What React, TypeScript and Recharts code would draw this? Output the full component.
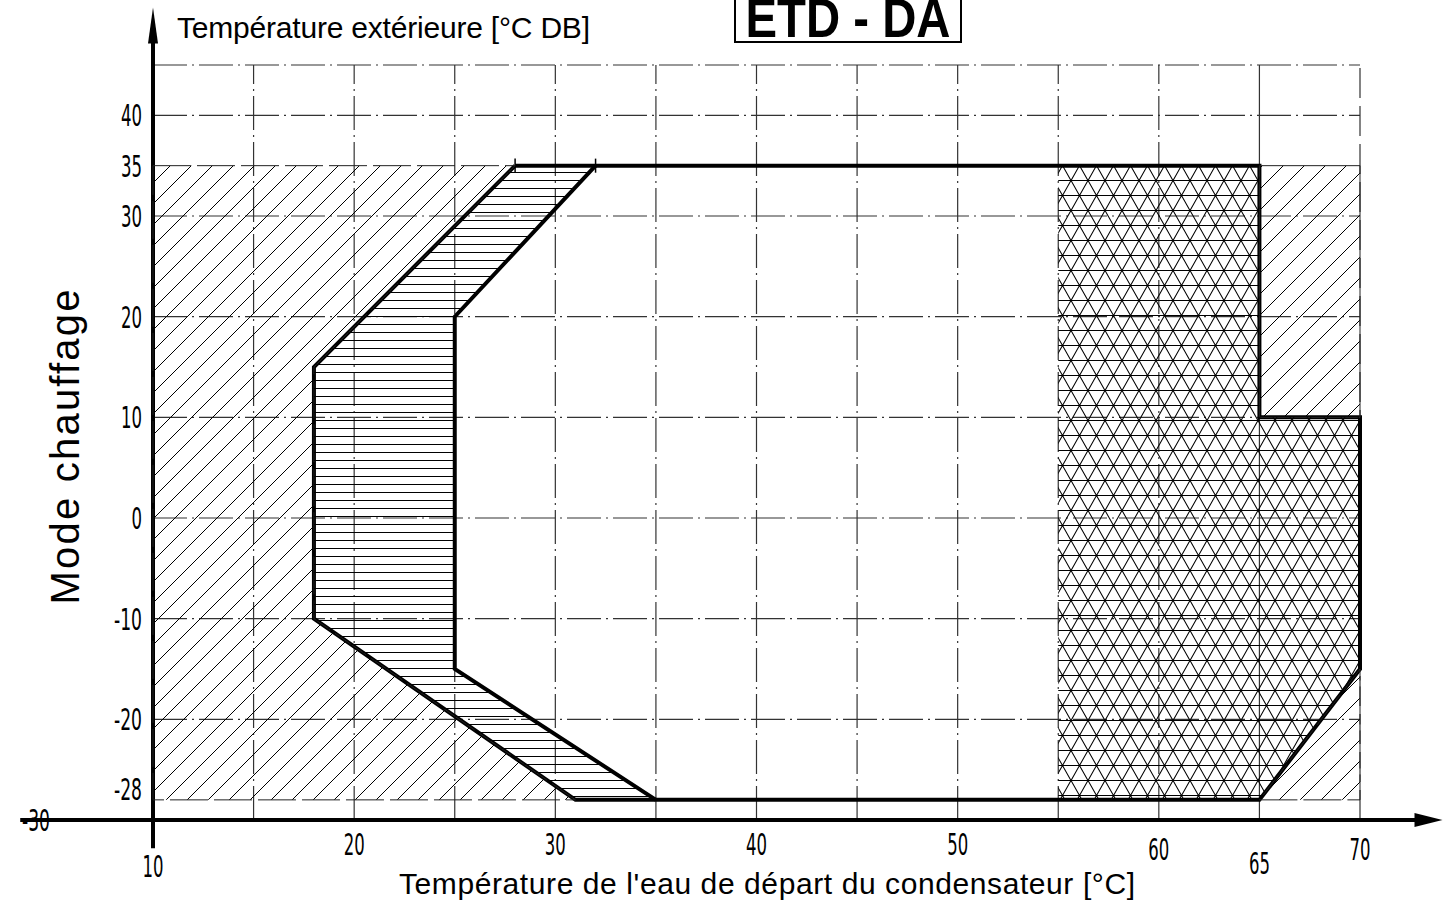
import React from "react";
import { ComposedChart, XAxis, YAxis, Line, Scatter, ReferenceLine, Customized } from "recharts";

const xTicks = [10, 20, 30, 40, 50, 60, 65, 70];
const yTicks = [40, 35, 30, 20, 10, 0, -10, -20, -28, -30];
const gridX = [15, 20, 25, 30, 35, 40, 45, 50, 55, 60, 65, 70];
const gridY = [45, 40, 30, 20, 10, 0, -10, -20];
const topMarks = [28, 32];

// thick outline of the operating envelope
const envelope = [
  { x: 28, y: 35 }, { x: 65, y: 35 }, { x: 65, y: 10 }, { x: 70, y: 10 }, { x: 70, y: -15 },
  { x: 65, y: -28 }, { x: 31, y: -28 }, { x: 18, y: -10 }, { x: 18, y: 15 }, { x: 28, y: 35 },
];
const innerLimit = [{ x: 32, y: 35 }, { x: 25, y: 20 }, { x: 25, y: -15 }, { x: 35, y: -28 }];

// hatched zones
const leftOut = [
  { x: 10, y: 35 }, { x: 28, y: 35 }, { x: 18, y: 15 }, { x: 18, y: -10 }, { x: 31, y: -28 }, { x: 10, y: -28 },
];
const band = [
  { x: 28, y: 35 }, { x: 18, y: 15 }, { x: 18, y: -10 }, { x: 31, y: -28 },
  { x: 35, y: -28 }, { x: 25, y: -15 }, { x: 25, y: 20 }, { x: 32, y: 35 },
];
const highTemp = [
  { x: 55, y: 35 }, { x: 65, y: 35 }, { x: 65, y: 10 }, { x: 70, y: 10 },
  { x: 70, y: -15 }, { x: 65, y: -28 }, { x: 55, y: -28 },
];
const rightOutTop = [{ x: 65, y: 35 }, { x: 70, y: 35 }, { x: 70, y: 10 }, { x: 65, y: 10 }];
const rightOutLow = [{ x: 65, y: -28 }, { x: 70, y: -28 }, { x: 70, y: -15 }];

const PLOT_BOTTOM = 820;
const TICK_FONT = "'Liberation Sans Narrow', 'DejaVu Sans Condensed', sans-serif";
const TEXT_FONT = "'Liberation Sans', Arial, sans-serif";
const GRID_DASH = "34 5 2 5";

const labelWidth = (s: string) => s.replace("-", "").length * 10.5 + (s.includes("-") ? 7 : 0);

// x labels are staggered in the original drawing
const xDrop: Record<number, number> = { 10: 57, 60: 40, 65: 54, 70: 40 };

function XTick({ x, payload }: any) {
  const s = String(payload.value);
  return (
    <text x={x} y={PLOT_BOTTOM + (xDrop[payload.value] ?? 35)} textAnchor="middle" fontFamily={TICK_FONT}
      fontSize={31} textLength={labelWidth(s)} lengthAdjust="spacingAndGlyphs" fill="#000">
      {s}
    </text>
  );
}

function YTick({ y, payload }: any) {
  const v = payload.value;
  const s = String(v);
  const right = v === -30 ? 50 : 142;
  const dy = v === -28 ? 0 : 11;
  return (
    <text x={right} y={y + dy} textAnchor="end" fontFamily={TICK_FONT} fontSize={31}
      textLength={labelWidth(s)} lengthAdjust="spacingAndGlyphs" fill="#000">
      {s}
    </text>
  );
}

const zone = (fill: string, stroke = "none", dash?: string) => (p: any) => (
  <polygon
    points={p.points.map((q: any) => `${q.x},${q.y}`).join(" ")}
    fill={fill}
    stroke={stroke}
    strokeWidth={1}
    strokeDasharray={dash}
  />
);

const xArrow = (p: any) => (
  <g>
    <line x1={p.x1} y1={p.y1} x2={p.x2 - 20} y2={p.y2} stroke="#000" strokeWidth={4} />
    <polygon points={`${p.x2},${p.y2} ${p.x2 - 28},${p.y2 - 7} ${p.x2 - 28},${p.y2 + 7}`} fill="#000" />
  </g>
);

const yArrow = (p: any) => (
  <g>
    <line x1={p.x1} y1={p.y1} x2={p.x2} y2={p.y2 + 20} stroke="#000" strokeWidth={4} />
    <polygon points={`${p.x2},${p.y2} ${p.x2 - 5},${p.y2 + 36} ${p.x2 + 5},${p.y2 + 36}`} fill="#000" />
  </g>
);

function Annotations() {
  return (
    <g fontFamily={TEXT_FONT} fill="#000">
      <text x={177} y={38} fontSize={30} textLength={413}>Température extérieure [°C DB]</text>
      <text x={399} y={894} fontSize={30} textLength={736}>Température de l'eau de départ du condensateur [°C]</text>
      <text transform="translate(79,447) rotate(-90)" textAnchor="middle" fontSize={40} textLength={315}>
        Mode chauffage
      </text>
      <rect x={735} y={-20} width={226} height={62} fill="#fff" stroke="#000" strokeWidth={2} />
      <text x={848} y={37} textAnchor="middle" fontSize={56} fontWeight="bold" textLength={205}
        lengthAdjust="spacingAndGlyphs">ETD - DA</text>
    </g>
  );
}

const noDot = () => <g />;

export default function App() {
  return (
    <div style={{ position: "absolute", left: 0, top: 0, width: 1443, height: 912, background: "#fff" }}>
      <svg width={0} height={0} style={{ position: "absolute" }}>
        <defs>
          <pattern id="hatchDiag" patternUnits="userSpaceOnUse" width="21" height="21">
            <path d="M-1,1 L1,-1 M0,21 L21,0 M20,22 L22,20" stroke="#000" strokeWidth="1" />
          </pattern>
          <pattern id="hatchHoriz" patternUnits="userSpaceOnUse" width="10" height="8">
            <line x1="0" y1="4.5" x2="10" y2="4.5" stroke="#000" strokeWidth="1" />
          </pattern>
          <pattern id="hatchTri" patternUnits="userSpaceOnUse" width="17" height="30">
            <path d="M0,0.5 L17,30.5 M17,0.5 L0,30.5 M-1,-0.5 L0,0.5 M17,0.5 L18,-0.5 M0,0.5 H17 M0,15.5 H17"
              stroke="#000" strokeWidth="1.1" />
          </pattern>
        </defs>
      </svg>
      <ComposedChart width={1443} height={912} margin={{ top: 65, right: 83, bottom: 62, left: 123 }}>
        <XAxis dataKey="x" type="number" domain={[10, 70]} ticks={xTicks} interval={0} height={30}
          axisLine={false} tickLine={false} tick={<XTick />} />
        <YAxis dataKey="y" type="number" domain={[-30, 45]} ticks={yTicks} interval={0} width={30}
          axisLine={false} tickLine={false} tick={<YTick />} />

        <Scatter data={leftOut} line={zone("url(#hatchDiag)", "#222", "38 6")} shape={noDot} isAnimationActive={false} />
        <Scatter data={rightOutTop} line={zone("url(#hatchDiag)", "#222")} shape={noDot} isAnimationActive={false} />
        <Scatter data={rightOutLow} line={zone("url(#hatchDiag)", "#222", "38 6")} shape={noDot} isAnimationActive={false} />
        <Scatter data={band} line={zone("url(#hatchHoriz)")} shape={noDot} isAnimationActive={false} />
        <Scatter data={highTemp} line={zone("url(#hatchTri)")} shape={noDot} isAnimationActive={false} />

        {gridY.map((v) => (
          <ReferenceLine key={`gy${v}`} y={v} stroke="#333" strokeWidth={1.2} strokeDasharray={GRID_DASH} />
        ))}
        {gridX.map((v) => (
          <ReferenceLine key={`gx${v}`} x={v} stroke="#333" strokeWidth={1.2}
            strokeDasharray={v === 65 ? undefined : v === 70 ? "30 8" : GRID_DASH} />
        ))}
        {topMarks.map((v) => (
          <ReferenceLine key={`m${v}`} segment={[{ x: v, y: 34.3 }, { x: v, y: 35.7 }]} stroke="#000"
            strokeWidth={1.5} ifOverflow="visible" />
        ))}

        <Line data={innerLimit} dataKey="y" type="linear" stroke="#000" strokeWidth={4} dot={false}
          isAnimationActive={false} />
        <Line data={envelope} dataKey="y" type="linear" stroke="#000" strokeWidth={4} dot={false}
          isAnimationActive={false} />

        <ReferenceLine segment={[{ x: 3.4, y: -30 }, { x: 74.1, y: -30 }]} ifOverflow="visible" shape={xArrow} />
        <ReferenceLine segment={[{ x: 10, y: -32.8 }, { x: 10, y: 50.7 }]} ifOverflow="visible" shape={yArrow} />

        <Customized component={Annotations} />
      </ComposedChart>
    </div>
  );
}
